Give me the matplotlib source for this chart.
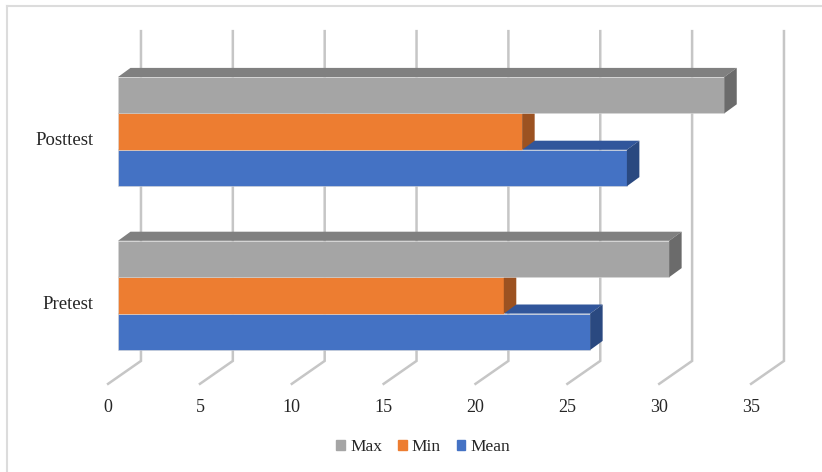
import matplotlib.pyplot as plt
from matplotlib.patches import Polygon, Patch

plt.rcParams['font.family'] = ['Liberation Serif', 'DejaVu Serif']

# * Data

categories = ["Pretest", "Posttest"]
mean_vals = [25.7, 27.7]
min_vals = [21, 22]
max_vals = [30, 33]
ticks = [0, 5, 10, 15, 20, 25, 30, 35]

# Bottom to top inside each group (drawn in this order so upper bars overlap).
series = [("Mean", mean_vals), ("Min", min_vals), ("Max", max_vals)]

front_col = {"Max": "#a5a5a5", "Min": "#ed7d31", "Mean": "#4472c4"}
top_col = {"Max": "#808080", "Min": "#b45f24", "Mean": "#31569b"}
side_col = {"Max": "#6b6b6b", "Min": "#9c5221", "Mean": "#2a4980"}

# * Fake 3D geometry (data units)

GROUP_STEP = 4.5      # distance between category centers, in bar heights
DX, DY = 0.68, 0.25   # bar depth offset
WALL_DX = 1.25        # back wall shift relative to bar front faces
WALL_TOP, WALL_BOT = 7.26, -1.80
FLOOR_DX, FLOOR_Y = -0.54, -2.43
TICK_Y = -3.09

fig = plt.figure(figsize=(8.22, 4.72), dpi=100)
ax = fig.add_axes([118 / 822, 122 / 472, 643 / 822, 273 / 472])
ax.set_xlim(0, 35)
ax.set_ylim(-1.5, 6.0)
ax.axis("off")

# Back wall gridlines and floor lines.
for t in ticks:
    ax.plot([t + WALL_DX, t + WALL_DX, t + FLOOR_DX],
            [WALL_TOP, WALL_BOT, FLOOR_Y],
            color="#c6c6c6", lw=1.8, clip_on=False, zorder=1,
            solid_joinstyle="miter")
    ax.text(t + FLOOR_DX, TICK_Y, str(t), ha="center", va="center",
            fontsize=13, color="#262626", clip_on=False)

# Bars: front face + top face + right side face.
for i, cat in enumerate(categories):
    yc = i * GROUP_STEP
    for k, (name, vals) in enumerate(series):
        v = vals[i]
        y0 = yc + (k - 1) - 0.5
        y1 = y0 + 1
        z = 3 + k
        ax.barh(y0 + 0.5, v, height=1, color=front_col[name],
                edgecolor="#d8d8d8", lw=0.4, zorder=z, clip_on=False)
        ax.add_patch(Polygon([(0, y1), (DX, y1 + DY), (v + DX, y1 + DY), (v, y1)],
                             closed=True, fc=top_col[name], ec="none",
                             zorder=z, clip_on=False))
        ax.add_patch(Polygon([(v, y0), (v, y1), (v + DX, y1 + DY), (v + DX, y0 + DY)],
                             closed=True, fc=side_col[name], ec="none",
                             zorder=z, clip_on=False))
    ax.text(-1.31, yc - 0.25, cat, ha="right", va="center",
            fontsize=13.5, color="#262626", clip_on=False)

# Legend
handles = [Patch(color=front_col[n], label=n) for n in ["Max", "Min", "Mean"]]
fig.legend(handles=handles, loc="center", bbox_to_anchor=(0.515, 0.053),
           ncol=3, frameon=False, fontsize=12.5, handlelength=0.5,
           handleheight=0.5, handletextpad=0.3, columnspacing=0.9,
           labelcolor="#262626")

# Chart area border (left and top edges)
fig.add_artist(plt.Line2D([7 / 822, 7 / 822], [0, 1 - 6 / 472],
                          transform=fig.transFigure, color="#dcdcdc", lw=1.5))
fig.add_artist(plt.Line2D([7 / 822, 1], [1 - 6 / 472, 1 - 6 / 472],
                          transform=fig.transFigure, color="#dcdcdc", lw=1.5))

fig.savefig("out.png", dpi=100)
